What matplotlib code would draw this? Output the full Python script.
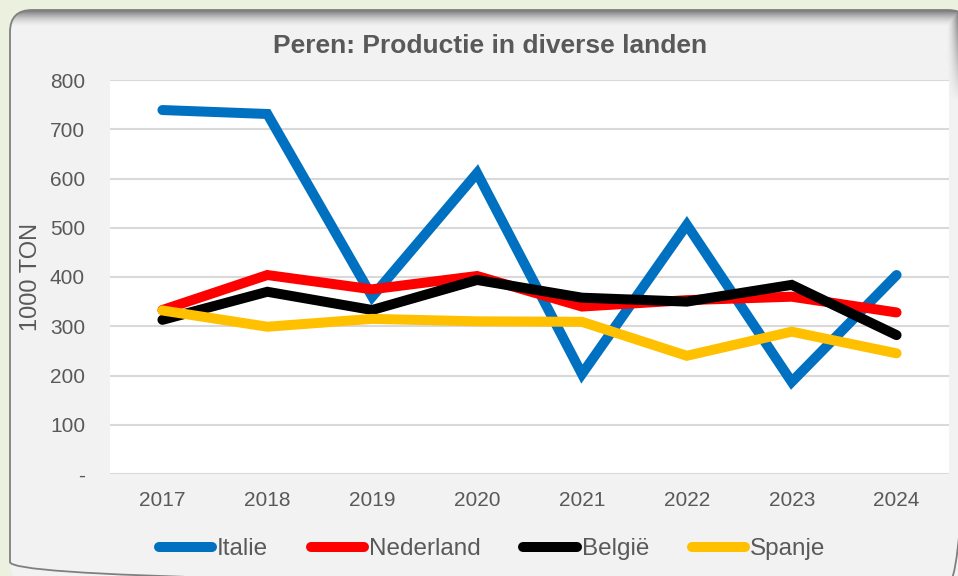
import matplotlib
matplotlib.use("Agg")
import numpy as np
import matplotlib.pyplot as plt
from matplotlib.patches import FancyBboxPatch
from matplotlib.transforms import Affine2D
from matplotlib.ticker import FixedLocator, FuncFormatter

years = ["2017", "2018", "2019", "2020", "2021", "2022", "2023", "2024"]
italie = [739, 731, 360, 611, 203, 506, 187, 404]
nederland = [333, 404, 375, 402, 340, 353, 360, 328]
belgie = [313, 370, 333, 394, 358, 350, 384, 282]
spanje = [332, 299, 315, 310, 309, 240, 289, 245]
series_names = ["Italie", "Nederland", "België", "Spanje"]
colors = ["#0070C0", "#FF0000", "#000000", "#FFC000"]

plt.rcParams['font.family'] = ['Liberation Sans', 'DejaVu Sans']

W, H = 958, 576
fig = plt.figure(figsize=(W/100, H/100), dpi=100)
fig.patch.set_facecolor("#EBF1DE")

# pixel coordinates (y down) -> display coordinates
pix = Affine2D().scale(1, -1).translate(0, H)

CX, CY, CW, CH, R = 10, 10, 960, 574, 22

# card fill with shading along the top and upper right edge
yy, xx = np.mgrid[0:H, 0:W].astype(float)
base = np.full((H, W), 0xF2 / 255.0)
top_shade = np.clip(1 - (yy - CY) / 16.0, 0, 1) ** 1.6
right_shade = (np.clip(1 - (W - xx) / 12.0, 0, 1) ** 1.6) * np.clip(1 - (yy - CY) / 90.0, 0, 1)
shade = np.maximum(top_shade, right_shade)
val = base * (1 - 0.5 * shade)
img = np.dstack([val, val, val, np.ones_like(val)])
im = fig.figimage(img, xo=0, yo=0, origin='upper', zorder=0)

clip = FancyBboxPatch((CX, CY), CW, CH, boxstyle=f"round,pad=0,rounding_size={R}",
                      facecolor="none", edgecolor="none", transform=pix)
im.set_clip_path(clip)
card = FancyBboxPatch((CX, CY), CW, CH, boxstyle=f"round,pad=0,rounding_size={R}",
                      facecolor="none", edgecolor="#7F7F7F", linewidth=1.3,
                      transform=pix, zorder=0.5)
fig.patches.append(card)

ax = fig.add_axes([110/W, 1 - 474/H, (949-110)/W, (474-80)/H])
ax.set_zorder(2)
ax.set_facecolor("white")

x = list(range(len(years)))
for vals, name, c in zip([italie, nederland, belgie, spanje], series_names, colors):
    ax.plot(x, vals, color=c, lw=7.2, label=name, solid_capstyle='round',
            solid_joinstyle='miter')

ax.set_xlim(-0.5, len(years) - 0.5)
ax.set_ylim(0, 800)
ax.yaxis.set_major_locator(FixedLocator(range(0, 801, 100)))
ax.yaxis.set_major_formatter(FuncFormatter(lambda v, p: "-" if v == 0 else f"{int(v)}"))
ax.set_xticks(x)
ax.set_xticklabels(years)
ax.grid(axis='y', color="#D9D9D9", lw=1.5)
ax.set_axisbelow(True)
for s in ax.spines.values():
    s.set_visible(False)
ax.tick_params(axis='both', length=0, labelsize=15, colors="#595959")
ax.tick_params(axis='y', pad=18)
ax.tick_params(axis='x', pad=12)

fig.text(490/W, 1 - 46/H, "Peren: Productie in diverse landen",
         ha='center', va='center', fontsize=19, fontweight='bold', color="#595959")
fig.text(31/W, 1 - 277/H, "1000 TON", rotation=90, ha='center', va='center',
         fontsize=17, color="#595959")

leg = fig.legend(loc='center', bbox_to_anchor=(492/W, 1 - 549/H),
                 ncol=4, frameon=False, fontsize=17.5, handlelength=2.2,
                 handletextpad=0.2, columnspacing=1.75)
for t in leg.get_texts():
    t.set_color("#595959")
for h in leg.get_lines():
    h.set_solid_capstyle('round')
    h.set_linewidth(7.2)

fig.savefig("out.png", dpi=100, facecolor=fig.get_facecolor())
